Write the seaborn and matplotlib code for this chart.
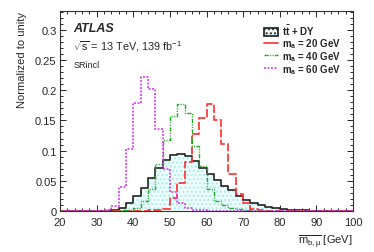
import numpy as np
import pandas as pd
import matplotlib
matplotlib.use('Agg')
import matplotlib.pyplot as plt
from matplotlib.ticker import MultipleLocator
from matplotlib.patches import Patch
from matplotlib.lines import Line2D
import seaborn as sns

# 2 GeV bins from 20 to 100
edges = list(range(20, 102, 2))
centers = [e + 1 for e in edges[:-1]]

bkg = [0, 0, 0, 0, 0.0001, 0.0003, 0.0008, 0.002, 0.005, 0.014,
       0.025, 0.038, 0.055, 0.072, 0.084, 0.092, 0.094, 0.091, 0.082, 0.072,
       0.061, 0.052, 0.042, 0.034, 0.025, 0.018, 0.013, 0.010, 0.007, 0.005,
       0.0035, 0.0022, 0.0015, 0.001, 0.0007, 0.0005, 0.0003, 0.0002, 0.0001, 0.0001]
ma20 = [0, 0, 0, 0, 0, 0, 0, 0, 0, 0,
        0, 0.0005, 0.001, 0.002, 0.004, 0.021, 0.047, 0.081, 0.128, 0.154,
        0.177, 0.150, 0.111, 0.061, 0.028, 0.014, 0.004, 0.001, 0, 0,
        0, 0, 0, 0, 0, 0, 0, 0, 0, 0]
ma40 = [0, 0, 0, 0, 0, 0, 0, 0, 0.001, 0.002,
        0.005, 0.017, 0.037, 0.077, 0.118, 0.158, 0.177, 0.162, 0.108, 0.075,
        0.036, 0.016, 0.010, 0.005, 0.003, 0.002, 0.001, 0, 0, 0,
        0, 0, 0, 0, 0, 0, 0, 0, 0, 0]
ma60 = [0, 0, 0, 0, 0, 0, 0.002, 0.009, 0.039, 0.102,
        0.178, 0.221, 0.202, 0.135, 0.069, 0.031, 0.013, 0.005, 0.002, 0.001,
        0, 0, 0, 0, 0, 0, 0, 0, 0, 0,
        0, 0, 0, 0, 0, 0, 0, 0, 0, 0]

df = pd.DataFrame({'x': centers, 'bkg': bkg, 'ma20': ma20, 'ma40': ma40, 'ma60': ma60})

sns.set_style('ticks')
plt.rcParams['font.family'] = ['Liberation Sans', 'DejaVu Sans']
plt.rcParams['mathtext.fontset'] = 'custom'
plt.rcParams['mathtext.rm'] = 'Liberation Sans'
plt.rcParams['mathtext.it'] = 'Liberation Sans'
plt.rcParams['mathtext.bf'] = 'Liberation Sans:bold'
plt.rcParams['hatch.color'] = '#a6eeee'
plt.rcParams['hatch.linewidth'] = 1.0

fig = plt.figure(figsize=(3.74, 2.53), dpi=100)
ax = fig.add_axes([0.1604, 0.162, 0.7835, 0.7905])

fillc = '#f0fefe'
dash20 = (0, (4.5, 1.3))
dash40 = (0, (3, 1, 0.8, 1, 0.8, 1))
dash60 = (0, (1.2, 0.9))

sns.histplot(data=df, x='x', weights='bkg', bins=edges, element='step', fill=True,
             facecolor=fillc, edgecolor='#a6eeee', hatch='....', linewidth=0, alpha=1, ax=ax)
sns.histplot(data=df, x='x', weights='bkg', bins=edges, element='step', fill=False,
             color='#2a2a2a', linewidth=1.25, ax=ax)
sns.histplot(data=df, x='x', weights='ma20', bins=edges, element='step', fill=False,
             color='#ff3b3b', linewidth=1.3, linestyle=dash20, ax=ax)
sns.histplot(data=df, x='x', weights='ma40', bins=edges, element='step', fill=False,
             color='#22aa22', linewidth=1.0, linestyle=dash40, ax=ax)
sns.histplot(data=df, x='x', weights='ma60', bins=edges, element='step', fill=False,
             color='#d83cf0', linewidth=1.2, linestyle=dash60, ax=ax)

ax.set_xlim(20, 100)
ax.set_ylim(0, 0.331)
ax.xaxis.set_major_locator(MultipleLocator(10))
ax.xaxis.set_minor_locator(MultipleLocator(2))
ax.yaxis.set_minor_locator(MultipleLocator(0.01))
ax.set_yticks([0, 0.05, 0.1, 0.15, 0.2, 0.25, 0.3])
ax.set_yticklabels(['0', '0.05', '0.1', '0.15', '0.2', '0.25', '0.3'])
ax.tick_params(which='both', direction='in', top=True, right=True, labelsize=8, width=0.7)
ax.tick_params(axis='x', pad=4.5)
ax.tick_params(axis='y', pad=2.5)
ax.tick_params(which='major', length=4)
ax.tick_params(which='minor', length=2.2)
for s in ax.spines.values():
    s.set_linewidth(0.8)
    s.set_color('#333333')

ax.set_xlabel(r'$\overline{m_{b,\mu}}$ [GeV]', fontsize=8, loc='right', labelpad=4)
ax.set_ylabel('Normalized to unity', fontsize=8, loc='top', labelpad=6)

ax.text(0.045, 0.915, 'ATLAS', transform=ax.transAxes, fontsize=9,
        fontweight='bold', fontstyle='italic', va='center')
ax.text(0.045, 0.825, r'$\sqrt{s}$ = 13 TeV, 139 fb$^{-1}$', transform=ax.transAxes,
        fontsize=7.8, va='center')
ax.text(0.045, 0.735, 'SRincl', transform=ax.transAxes, fontsize=6.5, va='center')

handles = [
    Patch(facecolor=fillc, edgecolor='#2a2a2a', hatch='....', linewidth=1.3),
    Line2D([], [], color='#ff3b3b', linewidth=1.3),
    Line2D([], [], color='#22aa22', linewidth=1.0, linestyle=dash40),
    Line2D([], [], color='#d83cf0', linewidth=1.2, linestyle=dash60),
]
labels = [r'$\mathbf{t\bar{t}}$ + DY', r'$\mathbf{m_a}$ = 20 GeV',
          r'$\mathbf{m_a}$ = 40 GeV', r'$\mathbf{m_a}$ = 60 GeV']
leg = ax.legend(handles, labels, loc='upper left', bbox_to_anchor=(0.695, 0.94),
                frameon=False, handlelength=1.5, handleheight=0.9,
                handletextpad=0.35, labelspacing=-0.1, borderpad=0, borderaxespad=0,
                prop={'weight': 'bold', 'size': 7})

fig.savefig('out.png', dpi=100)
